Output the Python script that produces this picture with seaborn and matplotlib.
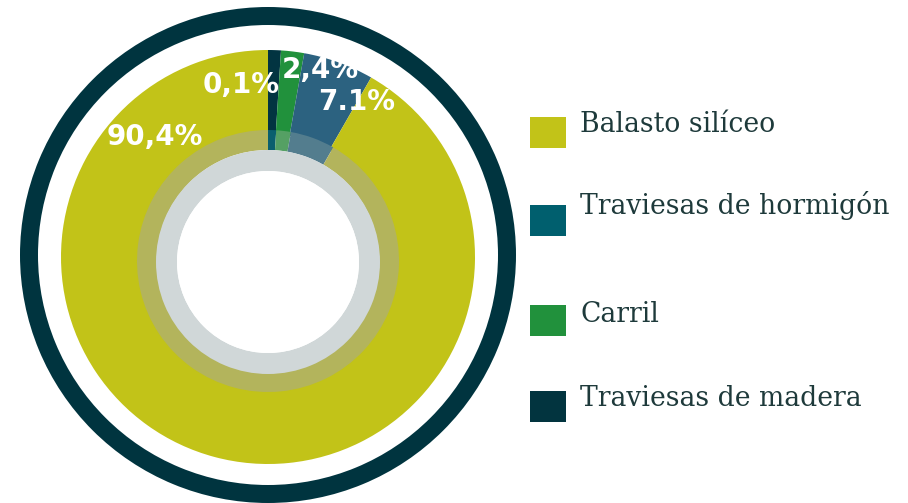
import matplotlib
matplotlib.use("Agg")
import matplotlib.pyplot as plt
from matplotlib.patches import Wedge, Circle, Rectangle
import seaborn as sns

# ---- data ----
categories = ["Traviesas de madera", "Carril", "Traviesas de hormigón", "Balasto silíceo"]
pct_labels = ["0,1%", "2,4%", "7.1%", "90,4%"]
wedge_share = [1.0, 1.8, 5.5, 91.7]          # angular share as drawn
slice_colors = ["#023441", "#21913C", "#2C6280", "#C2C318"]
inner_colors = ["#0A5F6E", "#55A064", "#537D8E", "#B3B45C"]

legend_order = ["Balasto silíceo", "Traviesas de hormigón", "Carril", "Traviesas de madera"]
legend_colors = ["#C2C318", "#005F6E", "#21913C", "#02343F"]

sns.set_theme(style="white")
plt.rcParams["font.family"] = ["DejaVu Sans"]

W, H = 908, 503
fig = plt.figure(figsize=(W / 100, H / 100), dpi=100)
ax = fig.add_axes([0, 0, 1, 1])

def Y(y):
    return H - y

cx = 268
# outer dark ring
ax.add_patch(Wedge((cx, Y(255)), 248, 0, 360, width=18, facecolor="#00343F", edgecolor="none"))

# main pie (annulus, inner edge hidden under the inner band)
ax.pie(wedge_share, colors=slice_colors, startangle=90, counterclock=False,
       center=(cx, Y(257)), radius=207, frame=True,
       wedgeprops=dict(linewidth=0, edgecolor="none", width=84))
# translucent-looking inner band
ax.pie(wedge_share, colors=inner_colors, startangle=90, counterclock=False,
       center=(cx, Y(261)), radius=131, frame=True,
       wedgeprops=dict(linewidth=0, edgecolor="none", width=20))
# light gray ring and white hole
ax.add_patch(Wedge((cx, Y(262)), 112, 0, 360, width=21, facecolor="#D0D7D8", edgecolor="none"))
ax.add_patch(Circle((cx, Y(262)), 91, facecolor="white", edgecolor="none"))

# percentage labels
label_pos = [(241, 85), (320, 70), (357, 102), (155, 137)]
for txt, (x, y) in zip(pct_labels, label_pos):
    ax.text(x, Y(y), txt, color="white", fontsize=20, fontweight="bold",
            ha="center", va="center")

# legend
sq_y = [132, 220, 320, 406]
txt_y = [124, 205, 315, 399]
for name, col, sy, ty in zip(legend_order, legend_colors, sq_y, txt_y):
    ax.add_patch(Rectangle((530, Y(sy) - 15.5), 36, 31, facecolor=col, edgecolor="none"))
    ax.text(580, Y(ty), name, color="#1E3A3B", fontsize=19.2, family="DejaVu Serif",
            ha="left", va="center")

ax.set_xlim(0, W)
ax.set_ylim(0, H)
ax.set_aspect("equal")
ax.axis("off")
fig.savefig("out.png", dpi=100, facecolor="white")
